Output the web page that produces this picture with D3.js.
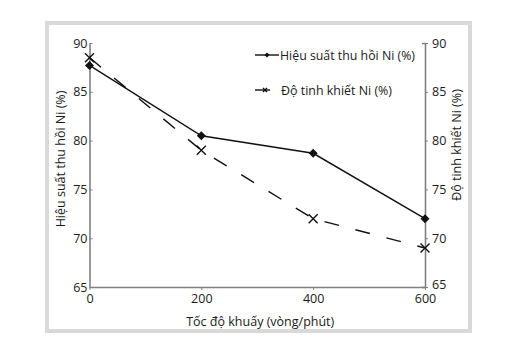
<!DOCTYPE html>
<html>
<head>
<meta charset="utf-8">
<script src="https://cdn.jsdelivr.net/npm/d3@7"></script>
<style>
  html, body { margin: 0; padding: 0; background: #fff; }
  svg { display: block; }
  text { font-family: "Open Sans", "Noto Sans", sans-serif; fill: #1a1a1a; }
</style>
</head>
<body>
<svg id="chart" width="506" height="342"></svg>
<script>
// Stirring speed (rpm) and the two measured responses
const speeds = [0, 200, 400, 600];
const recovery = [87.7, 80.5, 78.7, 72.0];   // Hiệu suất thu hồi Ni (%)
const purity = [88.5, 79.0, 72.0, 69.0];     // Độ tinh khiết Ni (%)
const xTicks = [0, 200, 400, 600];
const yTicks = [65, 70, 75, 80, 85, 90];
const labels = {
  x: "Tốc độ khuấy (vòng/phút)",
  yLeft: "Hiệu suất thu hồi Ni (%)",
  yRight: "Độ tinh khiết Ni (%)",
  recovery: "Hiệu suất thu hồi Ni (%)",
  purity: "Độ tinh khiết Ni (%)"
};

const svg = d3.select("#chart");
const plot = { left: 89.5, right: 425, top: 43, bottom: 287 };
const axisColor = "#808080";

// outer frame
svg.append("rect")
  .attr("x", 47).attr("y", 23).attr("width", 423).attr("height", 308)
  .attr("fill", "#fff").attr("stroke", "#d9d9d9").attr("stroke-width", 4);

const x = d3.scaleLinear().domain([0, 600]).range([plot.left, plot.right]);
const yL = d3.scaleLinear().domain([65, 90]).range([plot.bottom, plot.top]);
const yR = d3.scaleLinear().domain([65, 90]).range([plot.bottom, plot.top]);

function styleAxis(g) {
  g.select(".domain").attr("stroke", axisColor).attr("stroke-width", 1.6);
  g.selectAll(".tick line").attr("stroke", axisColor).attr("stroke-width", 1);
  g.selectAll(".tick text").attr("font-size", 12.5).attr("fill", "#1a1a1a")
    .style("font-family", '"Open Sans", "Noto Sans", sans-serif');
}

// x axis
svg.append("g")
  .attr("transform", `translate(0,${plot.bottom})`)
  .call(d3.axisBottom(x).tickValues(xTicks).tickSize(3).tickSizeOuter(0).tickPadding(4))
  .call(styleAxis);

// left axis
svg.append("g")
  .attr("transform", `translate(${plot.left},0)`)
  .call(d3.axisLeft(yL).tickValues(yTicks).tickSize(-3).tickSizeOuter(0).tickPadding(2))
  .call(styleAxis);

// right axis
const rightAxis = svg.append("g")
  .attr("transform", `translate(${plot.right},0)`)
  .call(d3.axisRight(yR).tickValues(yTicks).tickSize(3).tickSizeOuter(-3).tickPadding(4))
  .call(styleAxis);
// lowest right-hand label sits slightly above its tick
rightAxis.selectAll(".tick").filter(d => d === 65).select("text").attr("dy", "0.1em");

// axis titles
svg.append("text")
  .attr("x", (plot.left + plot.right) / 2 + 3).attr("y", 326)
  .attr("text-anchor", "middle").attr("font-size", 12.5)
  .text(labels.x);

svg.append("text")
  .attr("transform", `translate(65,${(plot.top + plot.bottom) / 2 - 6}) rotate(-90)`)
  .attr("text-anchor", "middle").attr("font-size", 12.5)
  .text(labels.yLeft);

svg.append("text")
  .attr("transform", `translate(461,${(plot.top + plot.bottom) / 2 - 20}) rotate(-90)`)
  .attr("text-anchor", "middle").attr("font-size", 12.5)
  .text(labels.yRight);

// series lines
const lineRec = d3.line().x((d, i) => x(speeds[i])).y(d => yL(d));
const linePur = d3.line().x((d, i) => x(speeds[i])).y(d => yR(d));

svg.append("path").datum(purity)
  .attr("d", linePur).attr("fill", "none")
  .attr("stroke", "#111").attr("stroke-width", 1.4)
  .attr("stroke-dasharray", "15,17");

svg.append("path").datum(recovery)
  .attr("d", lineRec).attr("fill", "none")
  .attr("stroke", "#111").attr("stroke-width", 1.4);

// markers
function drawDiamond(g, cx, cy, s) {
  g.append("path")
    .attr("d", `M${cx},${cy - s}L${cx + s},${cy}L${cx},${cy + s}L${cx - s},${cy}Z`)
    .attr("fill", "#111");
}
function drawCross(g, cx, cy, s) {
  g.append("path")
    .attr("d", `M${cx - s},${cy - s}L${cx + s},${cy + s}M${cx - s},${cy + s}L${cx + s},${cy - s}`)
    .attr("stroke", "#111").attr("stroke-width", 1.4).attr("fill", "none");
}
const marks = svg.append("g");
purity.forEach((v, i) => drawCross(marks, x(speeds[i]), yR(v), 4.5));
recovery.forEach((v, i) => drawDiamond(marks, x(speeds[i]), yL(v), 4.5));

// legend
const lg = svg.append("g");
lg.append("line").attr("x1", 255).attr("x2", 279).attr("y1", 55).attr("y2", 55)
  .attr("stroke", "#111").attr("stroke-width", 1.4);
drawDiamond(lg, 267, 55, 2.5);
lg.append("text").attr("x", 280).attr("y", 59.5).attr("font-size", 12.5)
  .attr("textLength", 135).attr("lengthAdjust", "spacingAndGlyphs")
  .text(labels.recovery);

lg.append("line").attr("x1", 255).attr("x2", 270).attr("y1", 90).attr("y2", 90)
  .attr("stroke", "#111").attr("stroke-width", 1.4);
drawCross(lg, 265, 90, 2);
lg.append("text").attr("x", 281).attr("y", 94.5).attr("font-size", 12.5)
  .attr("textLength", 111).attr("lengthAdjust", "spacingAndGlyphs")
  .text(labels.purity);
</script>
</body>
</html>
